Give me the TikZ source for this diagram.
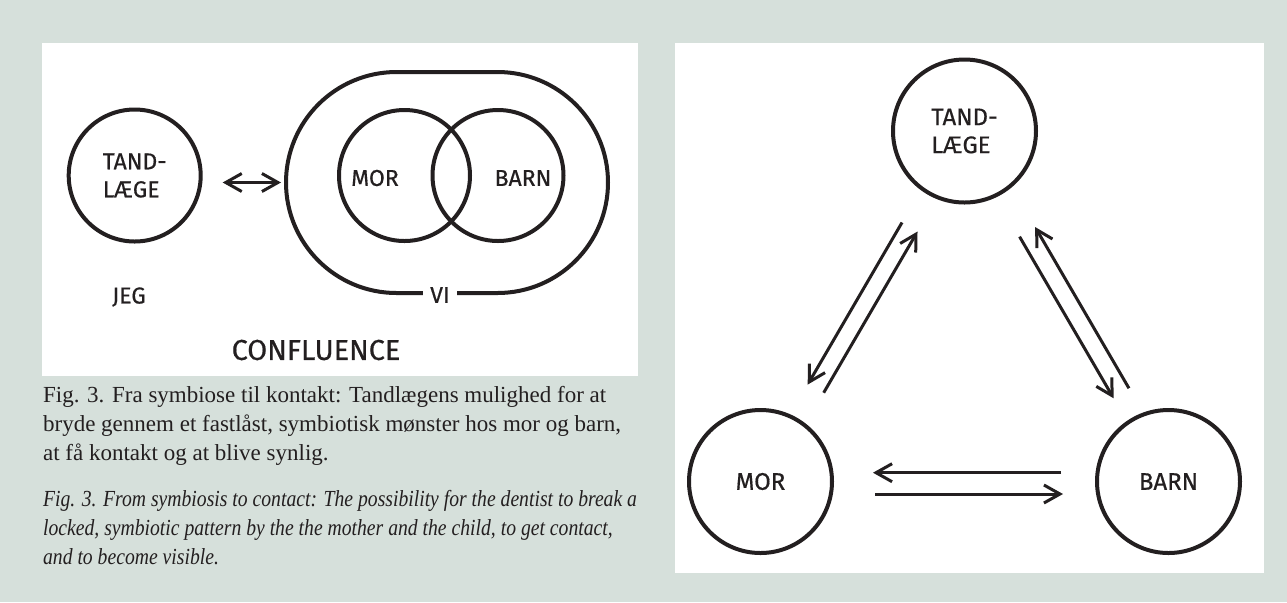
\documentclass[tikz,border=0pt]{standalone}
\usepackage{fontspec}
\setmainfont{Liberation Serif}
\newfontfamily\enfont[FakeStretch=0.855]{Liberation Serif}
\newfontfamily\dinfont[FakeBold=0.5]{Fira Sans}
\usepackage{tikz}
\usetikzlibrary{arrows.meta,shapes.misc}
\definecolor{PageBg}{HTML}{D6E0DB}
\definecolor{Ink}{HTML}{231F20}
\tikzset{
  ring/.style={circle,draw=Ink,line width=2pt,inner sep=0pt,minimum size=#1,
    text=Ink,align=left},
  lbl/.style={text=Ink,inner sep=0pt,font=\dinfont\fontsize{11.5}{14}\selectfont},
  lblR/.style={text=Ink,font=\dinfont\fontsize{12}{14}\selectfont},
  arr/.style={-{Straight Barb[length=8pt,width=9pt]},draw=Ink,line width=1.5pt},
  dbl/.style={{Straight Barb[length=8pt,width=9pt]}-{Straight Barb[length=8pt,width=9pt]},
    draw=Ink,line width=1.5pt},
  captxt/.style={text=Ink,inner sep=0pt,anchor=north west,align=left,
    font=\fontsize{11.5}{14.4}\selectfont},
}

\begin{document}
\begin{tikzpicture}[x=0.5pt,y=-0.5pt]
\useasboundingbox[fill=PageBg] (0,0) rectangle (1287,602);
\fill[white] (42,43) rectangle (638,376);
\fill[white] (675,43) rectangle (1264,573);

% confluence
\node[ring=66pt,lbl] (tandL) at (134.7,175.5) {TAND-\\LÆGE};
\node[rounded rectangle,draw=Ink,line width=2pt,inner sep=0pt,
  minimum width=161pt,minimum height=110.5pt] (vi) at (447,182.5) {};
\node[ring=65.5pt] (morL) at (404.5,175.5) {};
\node[ring=65.5pt] (barnL) at (498,175.5) {};
\node[lbl] (morLtxt) at (375,178) {MOR};
\node[lbl] (barnLtxt) at (523,178) {BARN};
\node[lbl,fill=white,inner xsep=3.5pt,inner ysep=1pt] (vitxt) at (440,295) {VI};
\node[lbl] (jeg) at (129,297) {JEG};
\node[lbl,font=\dinfont\fontsize{14.4}{16}\selectfont] (conf) at (316,350) {CONFLUENCE};
\draw[dbl,shorten <=10pt,shorten >=1.5pt] ([yshift=-3.5pt]tandL.east) -- (vi.west);

\node[captxt] (capDK) at (42.7,386)
  {Fig. 3. Fra symbiose til kontakt: Tandlægens mulighed for at\\
   bryde gennem et fastlåst, symbiotisk mønster hos mor og barn,\\
   at få kontakt og at blive synlig.};
\node[captxt,font=\enfont\fontsize{11.5}{14.4}\selectfont\itshape] (capEN) at (42.7,490)
  {Fig. 3. From symbiosis to contact: The possibility for the dentist to break a\\
   locked, symbiotic pattern by the the mother and the child, to get contact,\\
   and to become visible.};

% triangle
\node[ring=71.5pt,lblR] (tandR) at (964.5,131) {TAND-\\LÆGE};
\node[ring=71.5pt,lblR] (morR) at (760.5,481.5) {MOR};
\node[ring=71.5pt,lblR] (barnR) at (1168.5,481.5) {BARN};

\draw[arr,transform canvas={shift={(-6.9,-4.0)}},shorten <=18.5pt,shorten >=17pt] (tandR) -- (morR);
\draw[arr,transform canvas={shift={(8.6,5.0)}},shorten <=17.5pt,shorten >=18.5pt] (morR) -- (tandR);
\draw[arr,transform canvas={shift={(-4.8,2.8)}},shorten <=22.75pt,shorten >=13pt] (tandR) -- (barnR);
\draw[arr,transform canvas={shift={(11,-6.4)}},shorten <=13.5pt,shorten >=22.5pt] (barnR) -- (tandR);
\draw[arr,transform canvas={shift={(0,-8.8)}},shorten <=17pt,shorten >=19.5pt] (barnR) -- (morR);
\draw[arr,transform canvas={shift={(0,12.5)}},shorten <=20.5pt,shorten >=16pt] (morR) -- (barnR);
\end{tikzpicture}
\end{document}
